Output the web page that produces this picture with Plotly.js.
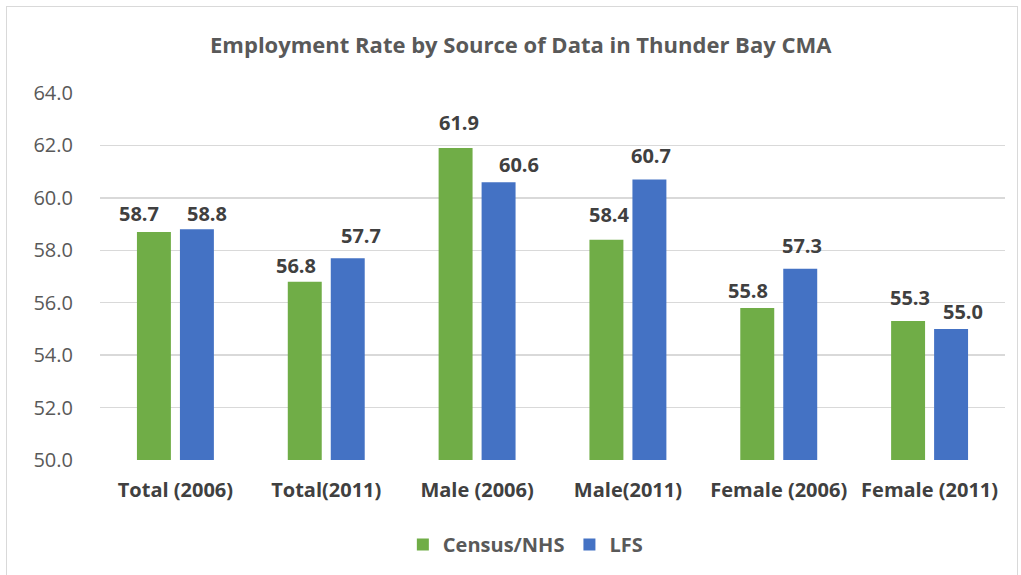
<!DOCTYPE html>
<html><head><meta charset="utf-8">
<script src="https://cdn.plot.ly/plotly-3.0.1.min.js"></script>
<style>body{margin:0;padding:0;background:#fff}#frame{position:absolute;left:6px;top:6px;width:1010px;height:580px;border:1px solid #d9d9d9;pointer-events:none}</style>
</head><body>
<div id="chart" style="width:1021px;height:575px"></div>
<div id="frame"></div>
<script>
const categories = ["Total (2006)", "Total(2011)", "Male (2006)", "Male(2011)", "Female (2006)", "Female (2011)"];
const censusNHS = [58.7, 56.8, 61.9, 58.4, 55.8, 55.3];
const lfs = [58.8, 57.7, 60.6, 60.7, 57.3, 55.0];
const yTicks = [50, 52, 54, 56, 58, 60, 62, 64];

// pixel nudges of the data labels (Excel labels were dragged by hand)
const censusLabelDx = [-36, -30.5, -18.5, -18.5, -30.5, -19.5];
const censusLabelDy = [3, 1, 10, 10, 2, 8];
const lfsLabelDx = [32, 34.5, 41.5, 23.5, 23.5, 33.5];
const lfsLabelDy = [0, 7, 2, 9, 8, 2];

const labelFont = {family: "Open Sans, sans-serif", size: 20, color: "#404040", weight: "bold"};
const traces = [
  {type: "bar", name: "Census/NHS", x: categories, y: censusNHS, marker: {color: "#70AD47"}, hoverinfo: "none"},
  {type: "bar", name: "LFS", x: categories, y: lfs, marker: {color: "#4472C4"}, hoverinfo: "none"}
];
function labels(vals, dx, dy) {
  return vals.map((v, i) => ({
    x: categories[i], y: v, xref: "x", yref: "y", text: "<b>" + v.toFixed(1) + "</b>",
    showarrow: false, xanchor: "center", yanchor: "bottom", xshift: dx[i], yshift: dy[i], font: labelFont
  }));
}
const layout = {
  width: 1021, height: 575,
  margin: {l: 100, r: 16, t: 93, b: 115, autoexpand: false},
  paper_bgcolor: "#fff", plot_bgcolor: "#fff",
  title: {text: "<b>Employment Rate by Source of Data in Thunder Bay CMA</b>", x: 0.51, xref: "container", xanchor: "center",
          y: 0.921, yref: "container", yanchor: "middle",
          font: {family: "Open Sans, sans-serif", size: 22, color: "#595959"}},
  bargap: 0.43, bargroupgap: 0.21, barmode: "group",
  xaxis: {showgrid: false, showline: false, zeroline: false, ticks: "", ticklabelstandoff: 16, tickangle: 0, automargin: false,
          tickfont: {family: "Open Sans, sans-serif", size: 20, color: "#404040", weight: "bold"}},
  yaxis: {range: [50, 64], tickvals: yTicks, ticktext: yTicks.map(v => v.toFixed(1)), showgrid: true, gridcolor: "#d9d9d9", gridwidth: 1.5,
          zeroline: false, showline: false, ticks: "", ticklabelstandoff: 26, automargin: false,
          tickfont: {family: "Open Sans, sans-serif", size: 20, color: "#595959"}},
  annotations: labels(censusNHS, censusLabelDx, censusLabelDy).concat(labels(lfs, lfsLabelDx, lfsLabelDy)),
  showlegend: true,
  legend: {orientation: "h", x: 0.47, xanchor: "center", y: -0.23, yanchor: "middle", traceorder: "normal",
           font: {family: "Open Sans, sans-serif", size: 20, color: "#595959", weight: "bold"}, itemwidth: 30}
};
Plotly.newPlot("chart", traces, layout, {displayModeBar: false, staticPlot: true});
</script>
</body></html>
